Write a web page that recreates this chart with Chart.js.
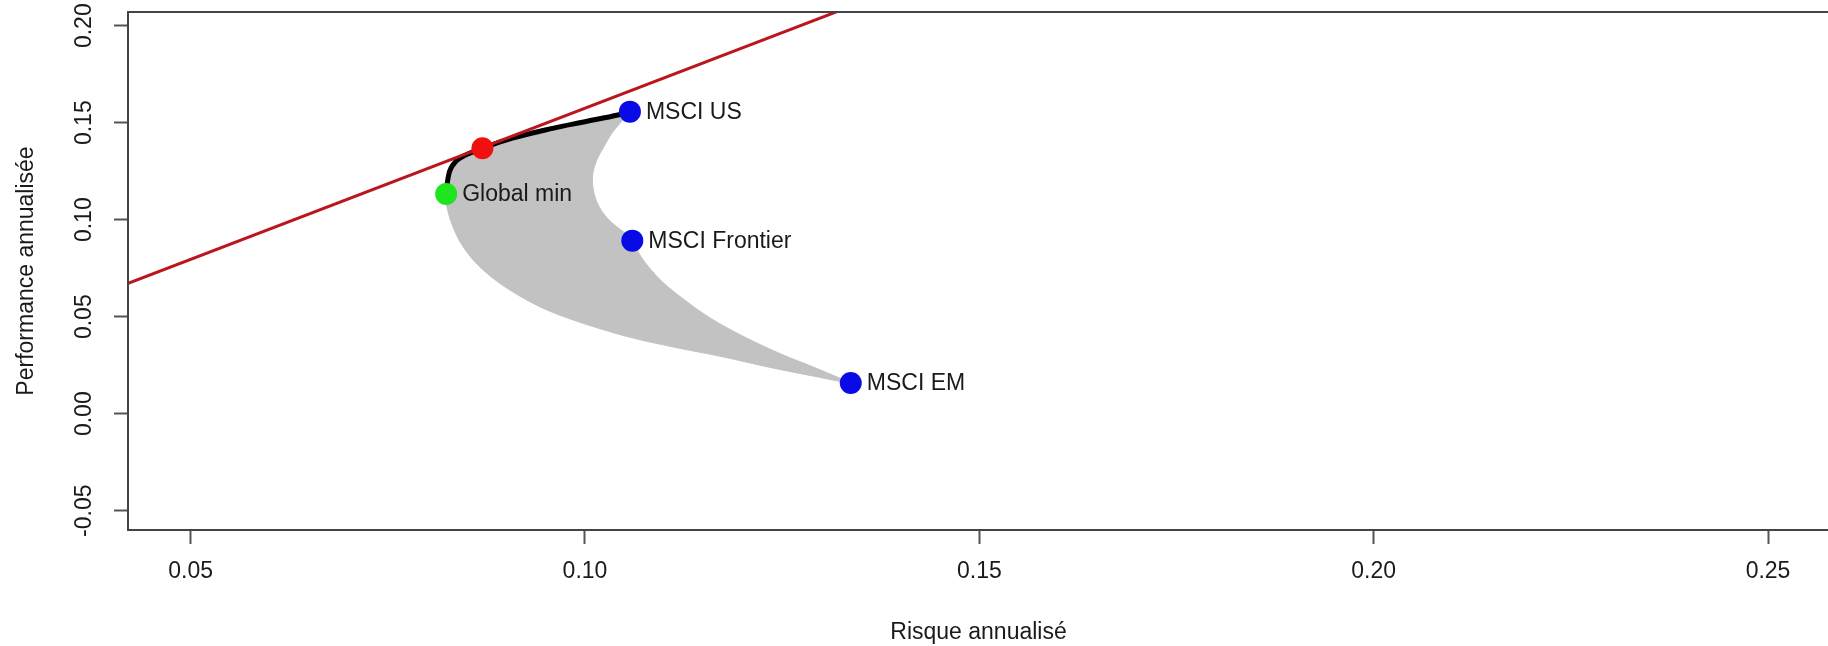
<!DOCTYPE html>
<html>
<head>
<meta charset="utf-8">
<script src="https://cdn.jsdelivr.net/npm/chart.js@4.4.1/dist/chart.umd.min.js"></script>
<style>
  html, body { margin: 0; padding: 0; overflow: hidden; background: #fff; }
</style>
</head>
<body>
<canvas id="chart" width="1840" height="646"></canvas>
<script>
// axis ticks
const xTicks = [0.05, 0.10, 0.15, 0.20, 0.25];
const yTicks = [-0.05, 0.00, 0.05, 0.10, 0.15, 0.20];

// outline of the cloud of random portfolios
const cloudX = [0.0824, 0.0826, 0.0830, 0.0841, 0.0870, 0.0908, 0.0959, 0.1000, 0.1043, 0.1057,
  0.1046, 0.1034, 0.1024, 0.1015, 0.1010, 0.1010, 0.1014, 0.1022, 0.1034, 0.1048, 0.1062,
  0.1068, 0.1080, 0.1098, 0.1125, 0.1160, 0.1205, 0.1250, 0.1290, 0.1322, 0.1337,
  0.1292, 0.1233, 0.1174, 0.1114, 0.1055, 0.0996, 0.0952, 0.0915, 0.0886, 0.0861, 0.0842, 0.0830, 0.0824];
const cloudY = [0.1132, 0.1205, 0.1265, 0.1316, 0.1368, 0.1420, 0.1471, 0.1505, 0.1541, 0.1557,
  0.1505, 0.1445, 0.1376, 0.1308, 0.1239, 0.1170, 0.1102, 0.1040, 0.0985, 0.0940, 0.0895,
  0.0830, 0.0760, 0.0680, 0.0590, 0.0490, 0.0390, 0.0305, 0.0240, 0.0185, 0.0158,
  0.0192, 0.0240, 0.0294, 0.0342, 0.0396, 0.0468, 0.0534, 0.0612, 0.0690, 0.0780, 0.0883, 0.0991, 0.1081];

// efficient frontier (black)
const frontierX = [0.0824, 0.0826, 0.0830, 0.0841, 0.0870, 0.0908, 0.0959, 0.1000, 0.1043, 0.1057];
const frontierY = [0.1132, 0.1205, 0.1265, 0.1316, 0.1368, 0.1420, 0.1471, 0.1505, 0.1541, 0.1557];

// capital market line (red)
const cmlX = [0.040, 0.135];
const cmlY = [0.064, 0.212];

// assets
const assetNames = ['MSCI US', 'MSCI Frontier', 'MSCI EM'];
const assetRisk = [0.1057, 0.1060, 0.1337];
const assetReturn = [0.1557, 0.0892, 0.0158];

const minName = 'Global min';
const minRisk = 0.0824;
const minReturn = 0.1132;

const tangRisk = 0.0870;
const tangReturn = 0.1368;

const xMin = 0.04206, xMax = 0.25773;
const yMin = -0.05995, yMax = 0.20706;

const FONT = '"Liberation Sans", Arial, sans-serif';
const toPts = (xs, ys) => xs.map((x, i) => ({ x: x, y: ys[i] }));

const framePlugin = {
  id: 'frame',
  afterDraw(chart) {
    const { ctx, chartArea: a } = chart;
    ctx.save();
    ctx.strokeStyle = '#444';
    ctx.lineWidth = 2;
    ctx.strokeRect(a.left, a.top, a.right - a.left, a.bottom - a.top);
    ctx.restore();
  }
};

const textPlugin = {
  id: 'texts',
  afterDraw(chart) {
    const ctx = chart.ctx;
    const sx = chart.scales.x, sy = chart.scales.y;
    ctx.save();
    ctx.font = '23px ' + FONT;
    ctx.fillStyle = '#1a1a1a';
    // point labels
    ctx.textAlign = 'left';
    ctx.textBaseline = 'middle';
    const names = assetNames.concat([minName]);
    const xs = assetRisk.concat([minRisk]);
    const ys = assetReturn.concat([minReturn]);
    names.forEach((n, i) => {
      ctx.fillText(n, sx.getPixelForValue(xs[i]) + 16, sy.getPixelForValue(ys[i]) + 1);
    });
    // rotated y tick labels
    ctx.textAlign = 'center';
    yTicks.forEach(v => {
      ctx.save();
      ctx.translate(sy.right - 43, sy.getPixelForValue(v));
      ctx.rotate(-Math.PI / 2);
      ctx.fillText(v.toFixed(2), 0, 0);
      ctx.restore();
    });
    ctx.restore();
  }
};

const axisCommon = {
  type: 'linear',
  grid: { drawOnChartArea: false, drawTicks: true, tickLength: 14, tickColor: '#555', tickWidth: 2 },
  border: { display: true, color: '#444', width: 2 }
};

new Chart(document.getElementById('chart'), {
  type: 'line',
  data: {
    datasets: [
      {
        label: 'Portefeuilles',
        data: toPts(cloudX, cloudY),
        order: 4,
        fill: 'shape',
        backgroundColor: '#c2c2c2',
        borderColor: '#c2c2c2',
        borderWidth: 1,
        pointRadius: 0,
        tension: 0.3
      },
      {
        label: 'Frontière efficiente',
        data: toPts(frontierX, frontierY),
        order: 3,
        borderColor: '#000',
        borderWidth: 5,
        pointRadius: 0,
        tension: 0.4,
        fill: false
      },
      {
        label: 'CML',
        data: toPts(cmlX, cmlY),
        order: 2,
        borderColor: '#bb161d',
        borderWidth: 3,
        pointRadius: 0,
        fill: false
      },
      {
        label: 'Actifs',
        data: toPts(assetRisk, assetReturn),
        order: 1,
        showLine: false,
        pointRadius: 11,
        pointBorderWidth: 0,
        pointBackgroundColor: '#0a0ae6'
      },
      {
        label: minName,
        data: [{ x: minRisk, y: minReturn }],
        order: 0,
        showLine: false,
        pointRadius: 11,
        pointBorderWidth: 0,
        pointBackgroundColor: '#1ee61e'
      },
      {
        label: 'Tangent',
        data: [{ x: tangRisk, y: tangReturn }],
        order: 0,
        showLine: false,
        pointRadius: 11,
        pointBorderWidth: 0,
        pointBackgroundColor: '#f01010'
      }
    ]
  },
  options: {
    responsive: false,
    animation: false,
    events: [],
    devicePixelRatio: 1,
    layout: { padding: { left: 0, top: 12, right: 8, bottom: 0 } },
    plugins: { legend: { display: false }, tooltip: { enabled: false } },
    scales: {
      x: Object.assign({}, axisCommon, {
        min: xMin,
        max: xMax,
        afterBuildTicks: s => { s.ticks = xTicks.map(v => ({ value: v })); },
        afterFit: s => { s.height = 116; },
        ticks: {
          font: { family: FONT, size: 23 },
          color: '#1a1a1a',
          padding: 14,
          maxRotation: 0,
          callback: v => Number(v).toFixed(2)
        },
        title: {
          display: true,
          text: 'Risque annualisé',
          font: { family: FONT, size: 23 },
          color: '#1a1a1a',
          padding: { top: 0, bottom: 0 }
        }
      }),
      y: Object.assign({}, axisCommon, {
        min: yMin,
        max: yMax,
        afterBuildTicks: s => { s.ticks = yTicks.map(v => ({ value: v })); },
        afterFit: s => { s.width = 128; },
        ticks: { callback: () => '', padding: 0 },
        title: {
          display: true,
          text: 'Performance annualisée',
          font: { family: FONT, size: 23 },
          color: '#1a1a1a',
          padding: { top: 13, bottom: 0 }
        }
      })
    }
  },
  plugins: [framePlugin, textPlugin]
});
</script>
</body>
</html>
